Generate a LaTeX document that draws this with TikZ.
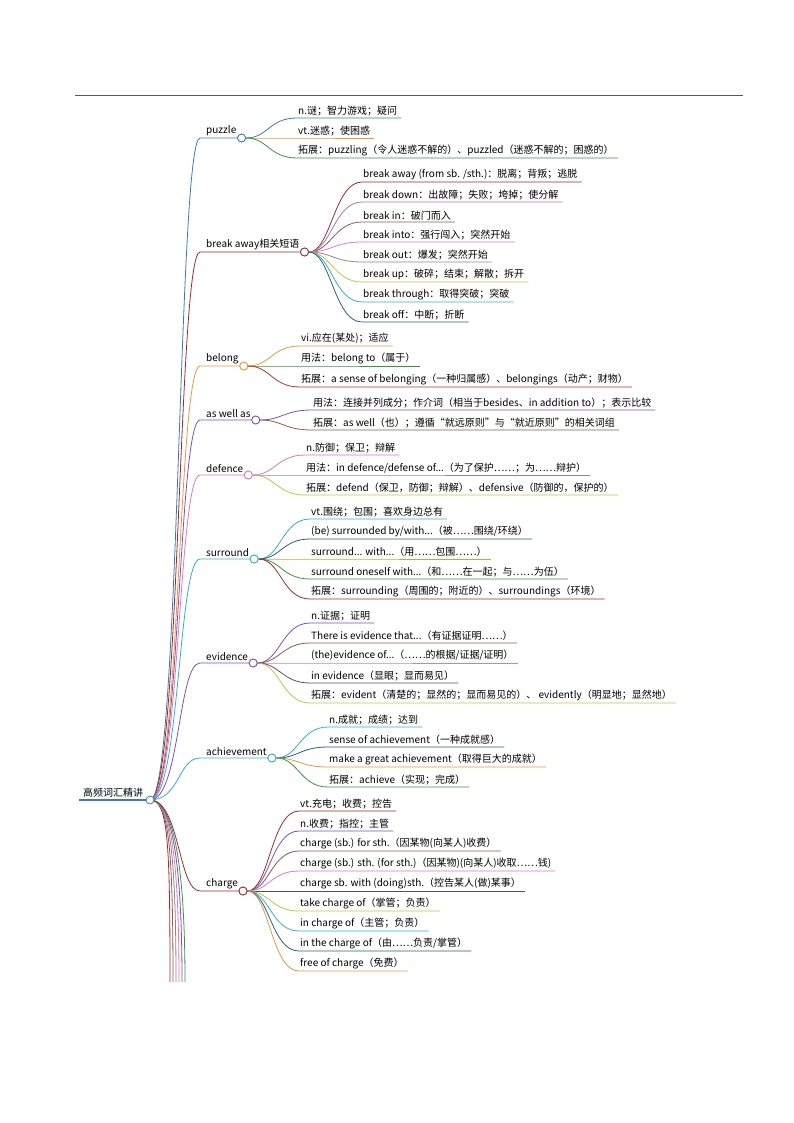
\documentclass[tikz,border=0pt]{standalone}
\usepackage{fontspec}
\setmainfont{Noto Sans CJK SC}
\begin{document}
\begin{tikzpicture}[x=1pt,y=-1pt,
 lbl/.style={inner xsep=1pt,inner ysep=2pt,font=\fontsize{10}{11}\selectfont},
 dot/.style={circle,fill=white,line width=0.8pt,minimum size=8pt,inner sep=0pt}]
\definecolor{cblue}{HTML}{3A7CB0}\definecolor{corange}{HTML}{E8963C}
\definecolor{cgreen}{HTML}{3C9440}\definecolor{cdred}{HTML}{A0282C}
\definecolor{cviolet}{HTML}{9A78C0}\definecolor{cbrown}{HTML}{8C5A50}
\definecolor{corchid}{HTML}{D878C8}\definecolor{cgray}{HTML}{888888}
\definecolor{colive}{HTML}{C8C040}\definecolor{ccyan}{HTML}{30B0C8}
\definecolor{cnavy}{HTML}{2C5C88}\definecolor{cpurple}{HTML}{8050B0}
\definecolor{cdslate}{HTML}{505068}\definecolor{cred}{HTML}{C03030}
\useasboundingbox (0,0) rectangle (794,1123);
\draw[gray!70!black,line width=0.6pt] (75,95) -- (743,95);
\node[lbl,anchor=south west] (root) at (82,800) {高频词汇精讲};
\draw[cblue,line width=2pt] (79,800) -- (146,800);
\coordinate (rc) at (150,800);
% tails going off the bottom
\foreach \x/\c in {170/cdred,173/cbrown,176/cgray,179/corchid,182/cpurple,185/cgreen}{
 \coordinate (tail) at (\x,982);
 \draw[\c,thick] (rc) .. controls (168,800) and (\x,840) .. (tail);}
\newcommand\tp[5]{%
 \node[lbl,anchor=south west] (#1) at (#2,#3) {#4};
 \draw[#5,thick] (rc) .. controls (180,800) and (178,#3) .. (200,#3) -- (#1.south east);
 \node[dot,draw=#5] (#1c) at ([xshift=4pt]#1.south east) {};}
\newcommand\ch[5]{%
 \node[lbl,anchor=south west] (t) at (#2,#3) {#4};
 \draw[#5,line width=0.8pt] (#1c.east) .. controls ([xshift=22pt]#1c.east) and ([xshift=-28pt]t.south west) .. (t.south west) -- ([xshift=3pt]t.south east);}
% first level
\tp{pz}{205}{138}{puzzle}{cblue}
\tp{ba}{205}{252}{break away相关短语}{cdred}
\tp{bl}{205}{366}{belong}{corange}
\tp{aw}{205}{420}{as well as}{cpurple}
\tp{df}{205}{475}{defence}{corchid}
\tp{sr}{205}{559}{surround}{ccyan}
\tp{ev}{205}{663}{evidence}{cpurple}
\tp{ac}{205}{758}{achievement}{ccyan}
\tp{cg}{205}{891}{charge}{cdred}
% children
\ch{pz}{297}{118}{n.谜；智力游戏；疑问}{cblue}
\ch{pz}{297}{138}{vt.迷惑；使困惑}{corange}
\ch{pz}{297}{158}{拓展：puzzling（令人迷惑不解的）、puzzled（迷惑不解的；困惑的）}{cgreen}
\ch{ba}{362}{182}{break away (from sb. /sth.)：脱离；背叛；逃脱}{cdred}
\ch{ba}{362}{202}{break down：出故障；失败；垮掉；使分解}{cviolet}
\ch{ba}{362}{222}{break in：破门而入}{cbrown}
\ch{ba}{362}{242}{break into：强行闯入；突然开始}{corchid}
\ch{ba}{362}{262}{break out：爆发；突然开始}{cgray}
\ch{ba}{362}{282}{break up：破碎；结束；解散；拆开}{colive}
\ch{ba}{362}{302}{break through：取得突破；突破}{ccyan}
\ch{ba}{362}{322}{break off：中断；折断}{cnavy}
\ch{bl}{300}{346}{vi.应在(某处)；适应}{corange}
\ch{bl}{300}{366}{用法：belong to（属于）}{cgreen}
\ch{bl}{300}{387}{拓展：a sense of belonging（一种归属感）、belongings（动产；财物）}{cred}
\ch{aw}{312}{410}{用法：连接并列成分；作介词（相当于besides、in addition to）；表示比较}{cpurple}
\ch{aw}{312}{430}{拓展：as well（也）；遵循“就远原则”与“就近原则”的相关词组}{cbrown}
\ch{df}{305}{455}{n.防御；保卫；辩解}{corchid}
\ch{df}{305}{475}{用法：in defence/defense of...（为了保护……；为……辩护）}{cgray}
\ch{df}{305}{495}{拓展：defend（保卫，防御；辩解）、defensive（防御的，保护的）}{colive}
\ch{sr}{310}{519}{vt.围绕；包围；喜欢身边总有}{ccyan}
\ch{sr}{310}{539}{(be) surrounded by/with...（被……围绕/环绕）}{cnavy}
\ch{sr}{310}{559}{surround... with...（用……包围……）}{corange}
\ch{sr}{310}{579}{surround oneself with...（和……在一起；与……为伍）}{cgreen}
\ch{sr}{310}{599}{拓展：surrounding（周围的；附近的）、surroundings（环境）}{cdred}
\ch{ev}{310}{623}{n.证据；证明}{cpurple}
\ch{ev}{310}{643}{There is evidence that...（有证据证明……）}{cbrown}
\ch{ev}{310}{663}{(the)evidence of...（……的根据/证据/证明）}{corchid}
\ch{ev}{310}{683}{in evidence（显眼；显而易见）}{cdslate}
\ch{ev}{310}{703}{拓展：evident（清楚的；显然的；显而易见的）、 evidently（明显地；显然地）}{colive}
\ch{ac}{328}{727}{n.成就；成绩；达到}{ccyan}
\ch{ac}{328}{747}{sense of achievement（一种成就感）}{cnavy}
\ch{ac}{328}{767}{make a great achievement（取得巨大的成就）}{corange}
\ch{ac}{328}{787}{拓展：achieve（实现；完成）}{cgreen}
\ch{cg}{299}{811}{vt.充电；收费；控告}{cdred}
\ch{cg}{299}{831}{n.收费；指控；主管}{cpurple}
\ch{cg}{299}{851}{charge (sb.) for sth.（因某物(向某人)收费）}{cbrown}
\ch{cg}{299}{871}{charge (sb.) sth. (for sth.)（因某物)(向某人)收取……钱)}{corchid}
\ch{cg}{299}{891}{charge sb. with (doing)sth.（控告某人(做)某事）}{cdslate}
\ch{cg}{299}{911}{take charge of（掌管；负责）}{colive}
\ch{cg}{299}{931}{in charge of（主管；负责）}{ccyan}
\ch{cg}{299}{951}{in the charge of（由……负责/掌管）}{cnavy}
\ch{cg}{299}{971}{free of charge（免费）}{corange}
% redraw circles on top
\foreach \n/\c in {pz/cblue,ba/cdred,bl/corange,aw/cpurple,df/corchid,sr/ccyan,ev/cpurple,ac/ccyan,cg/cdred}{
 \node[dot,draw=\c] at (\n c) {};}
\node[dot,draw=cblue] (rcd) at (rc) {};
\end{tikzpicture}
\end{document}
